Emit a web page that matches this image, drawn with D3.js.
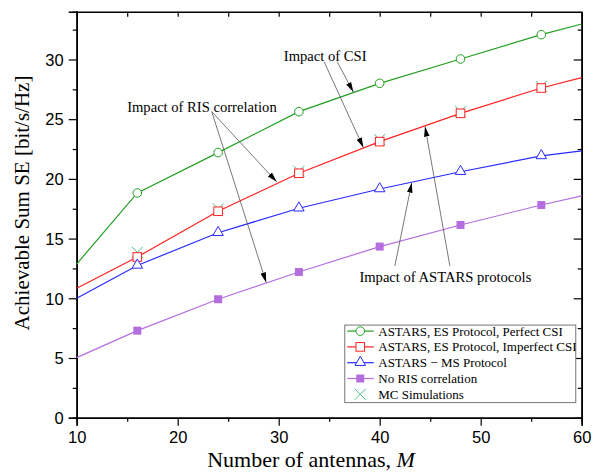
<!DOCTYPE html>
<html>
<head>
<meta charset="utf-8">
<script src="https://cdn.jsdelivr.net/npm/d3@7"></script>
<style>
  body { margin: 0; background: #fff; }
  .tick text { font-family: "Liberation Sans", Arial, sans-serif; font-size: 16.5px; fill: #000; }
  .serif { font-family: "Liberation Serif", "Times New Roman", serif; }
</style>
</head>
<body>
<script>
// x values (number of antennas) and the series
const antennas = [10, 16, 24, 32, 40, 48, 56, 60];
const perfectCSI = [12.87, 18.82, 22.2, 25.63, 28.0, 30.04, 32.08, 32.97];
const imperfectCSI = [10.84, 13.46, 17.29, 20.47, 23.12, 25.49, 27.61, 28.48];
const msProtocol = [10.0, 12.75, 15.49, 17.54, 19.15, 20.6, 21.92, 22.34];
const noCorrelation = [5.03, 7.29, 9.92, 12.2, 14.33, 16.14, 17.81, 18.57];
const mcAntennas = [16, 24, 32, 40, 48, 56];
const mcSim = [13.85, 17.5, 20.65, 23.3, 25.65, 27.75];

const xTicks = [10, 20, 30, 40, 50, 60];
const yTicks = [0, 5, 10, 15, 20, 25, 30];

const legendLabels = [
  "ASTARS, ES Protocol, Perfect CSI",
  "ASTARS, ES Protocol, Imperfect CSI",
  "ASTARS \u2212 MS Protocol",
  "No RIS correlation",
  "MC Simulations"
];

// annotations in data units: text anchor, arrows [fromM, fromSE, toM, toSE]
const annotations = [
  { text: "Impact of CSI", at: [34.6, 30.3],
    arrows: [[34.5, 29.8, 38.38, 22.62], [35.8, 29.8, 37.39, 27.27]] },
  { text: "Impact of RIS correlation", at: [22.4, 26.0],
    arrows: [[23.37, 25.63, 29.8, 19.75], [23.37, 25.63, 28.76, 11.33]] },
  { text: "Impact of ASTARS protocols", at: [46.5, 11.75],
    arrows: [[41.5, 12.7, 43.17, 19.68], [46.95, 12.7, 44.49, 24.38]] }
];

var width = 597, height = 472;
var margin = {top: 11.7, right: 15.3, bottom: 54.3, left: 76.7};
var iw = width - margin.left - margin.right,
    ih = height - margin.top - margin.bottom;

var x = d3.scaleLinear().domain([10, 60]).range([0, iw]);
var y = d3.scaleLinear().domain([0, 34]).range([ih, 0]);

var svg = d3.select("body").append("svg")
    .attr("width", width)
    .attr("height", height);

svg.append("defs").append("marker")
    .attr("id", "head")
    .attr("viewBox", "0 0 10 10")
    .attr("refX", 10).attr("refY", 5)
    .attr("markerWidth", 10).attr("markerHeight", 10)
    .attr("markerUnits", "userSpaceOnUse")
    .attr("orient", "auto")
  .append("path")
    .attr("d", "M0,2.2L10,5L0,7.8Z")
    .attr("fill", "#000");

var g = svg.append("g")
    .attr("transform", "translate(" + margin.left + "," + margin.top + ")");

var minorX = d3.range(15, 60, 10);
var minorY = d3.range(2.5, 34, 5);

// axes: left/bottom ticks outward, top/right mirrored inward
function axisStyle(sel) {
  sel.select(".domain").attr("stroke", "#000").attr("stroke-width", 1.6);
  sel.selectAll(".tick line").attr("stroke", "#000").attr("stroke-width", 1.2);
}

g.append("g").attr("transform", "translate(0," + ih + ")")
    .call(d3.axisBottom(x).tickValues(minorX).tickSize(4).tickFormat("")).call(axisStyle);
g.append("g").attr("transform", "translate(0," + ih + ")")
    .call(d3.axisBottom(x).tickValues(xTicks).tickSize(8).tickPadding(4)).call(axisStyle);
g.append("g")
    .call(d3.axisLeft(y).tickValues(minorY).tickSize(4).tickFormat("")).call(axisStyle);
g.append("g")
    .call(d3.axisLeft(y).tickValues(yTicks).tickSize(8).tickPadding(5)).call(axisStyle);
g.append("g")
    .call(d3.axisTop(x).tickValues(minorX.concat(xTicks)).tickSize(-5).tickSizeOuter(0).tickFormat("")).call(axisStyle);
g.append("g").attr("transform", "translate(" + iw + ",0)")
    .call(d3.axisRight(y).tickValues(minorY).tickSize(-4).tickSizeOuter(0).tickFormat("")).call(axisStyle);
g.append("g").attr("transform", "translate(" + iw + ",0)")
    .call(d3.axisRight(y).tickValues(yTicks).tickSize(-8).tickSizeOuter(0).tickFormat("")).call(axisStyle);

g.selectAll(".tick text").attr("dy", null);
g.selectAll(".tick text").each(function () {
  var t = d3.select(this);
  if (t.attr("y") && +t.attr("y") > 0) t.attr("dy", "0.8em"); else t.attr("dy", "0.35em");
});

// series
var series = [
  { values: perfectCSI, color: "#22a022", marker: "circle" },
  { values: imperfectCSI, color: "#ff2222", marker: "square" },
  { values: msProtocol, color: "#2a2aff", marker: "triangle" },
  { values: noCorrelation, color: "#b46ee0", marker: "filled" }
];

var line = d3.line()
    .x(function (d) { return x(d[0]); })
    .y(function (d) { return y(d[1]); });

function drawMarker(sel, kind, color, cx, cy) {
  if (kind === "circle") {
    sel.append("circle").attr("cx", cx).attr("cy", cy).attr("r", 4.3)
      .attr("fill", "#fff").attr("stroke", color).attr("stroke-width", 1);
  } else if (kind === "square") {
    sel.append("rect").attr("x", cx - 4.3).attr("y", cy - 4.3).attr("width", 8.6).attr("height", 8.6)
      .attr("fill", "#fff").attr("stroke", color).attr("stroke-width", 1);
  } else if (kind === "triangle") {
    sel.append("path").attr("d", d3.symbol().type(d3.symbolTriangle).size(48)())
      .attr("transform", "translate(" + cx + "," + (cy - 0.3) + ")")
      .attr("fill", "#fff").attr("stroke", color).attr("stroke-width", 1);
  } else if (kind === "filled") {
    sel.append("rect").attr("x", cx - 4).attr("y", cy - 4).attr("width", 8).attr("height", 8)
      .attr("fill", color).attr("stroke", "none");
  } else if (kind === "cross") {
    sel.append("path")
      .attr("d", "M" + (cx - 5.5) + "," + (cy - 5.5) + "L" + (cx + 5.5) + "," + (cy + 5.5) +
                 "M" + (cx - 5.5) + "," + (cy + 5.5) + "L" + (cx + 5.5) + "," + (cy - 5.5))
      .attr("stroke", color).attr("stroke-width", 1).attr("fill", "none");
  }
}

var mcColor = "#52c28c";

// MC crosses drawn under the squares
mcAntennas.forEach(function (m, i) {
  drawMarker(g, "cross", mcColor, x(m), y(mcSim[i]));
});

series.forEach(function (s) {
  var pts = antennas.map(function (m, i) { return [m, s.values[i]]; });
  g.append("path").datum(pts)
    .attr("d", line)
    .attr("fill", "none")
    .attr("stroke", s.color)
    .attr("stroke-width", 1.2);
  pts.slice(1, -1).forEach(function (p) {
    drawMarker(g, s.marker, s.color, x(p[0]), y(p[1]));
  });
});

// annotations
annotations.forEach(function (a) {
  a.arrows.forEach(function (r) {
    g.append("line")
      .attr("x1", x(r[0])).attr("y1", y(r[1]))
      .attr("x2", x(r[2])).attr("y2", y(r[3]))
      .attr("stroke", "#555").attr("stroke-width", 0.8)
      .attr("marker-end", "url(#head)");
  });
  g.append("text").attr("class", "serif")
    .attr("x", x(a.at[0])).attr("y", y(a.at[1]))
    .attr("text-anchor", "middle")
    .attr("dy", "0.35em")
    .attr("font-size", 14.6)
    .text(a.text);
});

// legend
var legend = g.append("g")
    .attr("transform", "translate(" + (x(36.54)) + "," + (y(7.755)) + ")");
legend.append("rect")
    .attr("width", 231).attr("height", 77.5)
    .attr("fill", "#fff").attr("stroke", "#777").attr("stroke-width", 1);

var legendKinds = [
  { color: series[0].color, marker: "circle", line: true },
  { color: series[1].color, marker: "square", line: true },
  { color: series[2].color, marker: "triangle", line: true },
  { color: series[3].color, marker: "filled", line: true },
  { color: mcColor, marker: "cross", line: false }
];

legendKinds.forEach(function (k, i) {
  var ly = 6 + i * 15.8;
  var row = legend.append("g");
  if (k.line) {
    row.append("line").attr("x1", 2.5).attr("x2", 29).attr("y1", ly).attr("y2", ly)
      .attr("stroke", k.color).attr("stroke-width", 1.2);
  }
  drawMarker(row, k.marker, k.color, 15.5, ly);
  row.append("text").attr("class", "serif")
    .attr("x", 33.5).attr("y", ly).attr("dy", "0.35em")
    .attr("font-size", 13)
    .text(legendLabels[i]);
});

// axis titles
svg.append("text").attr("class", "serif")
    .attr("x", 311).attr("y", 467)
    .attr("text-anchor", "middle")
    .attr("font-size", 22)
    .html("Number of antennas, <tspan font-style='italic'>M</tspan>");

svg.append("text").attr("class", "serif")
    .attr("transform", "translate(29,203) rotate(-90)")
    .attr("text-anchor", "middle")
    .attr("font-size", 21)
    .text("Achievable Sum SE [bit/s/Hz]");
</script>
</body>
</html>
